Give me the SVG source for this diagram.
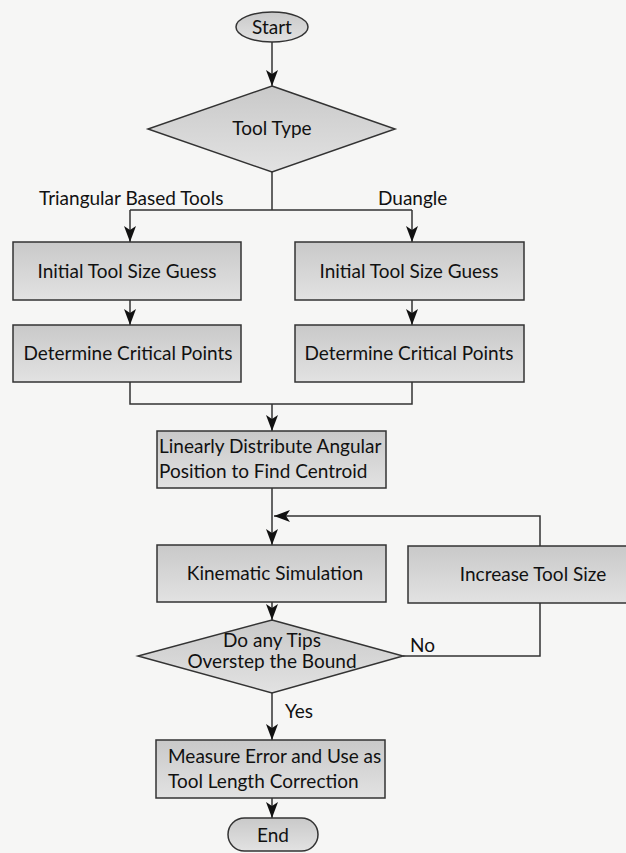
<svg xmlns="http://www.w3.org/2000/svg" width="626" height="853" viewBox="0 0 626 853">
<defs>
<linearGradient id="g" x1="0" y1="0" x2="0" y2="1">
<stop offset="0" stop-color="#c9c9c9"/>
<stop offset="1" stop-color="#e2e2e2"/>
</linearGradient>
<marker id="ah" viewBox="0 0 16 12" markerWidth="16" markerHeight="12" refX="16" refY="6" orient="auto" markerUnits="userSpaceOnUse">
<path d="M0,0 L16,6 L0,12 L4,6 Z" fill="#111"/>
</marker>
</defs>
<style>
.b{fill:url(#g);stroke:#333;stroke-width:1.5}
.t{font-family:"Lato","Liberation Sans",sans-serif;font-size:19px;fill:#111}
.m{text-anchor:middle}
.c{fill:none;stroke:#333;stroke-width:1.5}
.a{marker-end:url(#ah)}
</style>
<rect width="626" height="853" fill="#f6f6f5"/>
<g id="connectors">
<path class="c a" d="M272,42 V86"/>
<path class="c" d="M272,172 V210 M130,210 H412"/>
<path class="c a" d="M130,210 V242"/>
<path class="c a" d="M412,210 V242"/>
<path class="c a" d="M130,300 V325"/>
<path class="c a" d="M412,300 V325"/>
<path class="c" d="M130,382 V404 H412 V382"/>
<path class="c a" d="M272,404 V431"/>
<path class="c a" d="M272,488 V545"/>
<path class="c a" d="M540,603 V656 H403 M540,546 V516 H274"/>
<path class="c a" d="M272,602 V620"/>
<path class="c a" d="M272,693 V740"/>
<path class="c a" d="M272,798 V818"/>
<text class="t" x="39" y="205">Triangular Based Tools</text>
<text class="t" x="378" y="205">Duangle</text>
<text class="t" x="410" y="652">No</text>
<text class="t" x="285" y="718">Yes</text>
</g>
<g id="start"><ellipse class="b" cx="272" cy="27" rx="36" ry="15"/><text class="t m" x="272" y="34">Start</text></g>
<g id="tooltype"><path class="b" d="M272,86 L395,129 L272,172 L148,129 Z"/><text class="t m" x="272" y="135">Tool Type</text></g>
<g id="guess1"><rect class="b" x="13" y="242" width="228" height="58"/><text class="t m" x="127" y="278">Initial Tool Size Guess</text></g>
<g id="guess2"><rect class="b" x="295" y="242" width="229" height="58"/><text class="t m" x="409" y="278">Initial Tool Size Guess</text></g>
<g id="crit1"><rect class="b" x="13" y="325" width="228" height="57"/><text class="t m" x="128" y="360">Determine Critical Points</text></g>
<g id="crit2"><rect class="b" x="295" y="325" width="229" height="57"/><text class="t m" x="409" y="360">Determine Critical Points</text></g>
<g id="linear"><rect class="b" x="157" y="431" width="229" height="57"/><text class="t" x="159" y="453">Linearly Distribute Angular</text><text class="t" x="159" y="478">Position to Find Centroid</text></g>
<g id="kinematic"><rect class="b" x="157" y="545" width="229" height="57"/><text class="t m" x="275" y="580">Kinematic Simulation</text></g>
<g id="increase"><rect class="b" x="408" y="546" width="220" height="57"/><text class="t m" x="533" y="581">Increase Tool Size</text></g>
<g id="tips"><path class="b" d="M272,620 L403,656 L272,693 L138,656 Z"/><text class="t m" x="272" y="647">Do any Tips</text><text class="t m" x="272" y="668">Overstep the Bound</text></g>
<g id="measure"><rect class="b" x="156" y="740" width="229" height="58"/><text class="t" x="168" y="763">Measure Error and Use as</text><text class="t" x="168" y="788">Tool Length Correction</text></g>
<g id="end"><rect class="b" x="228" y="818" width="90" height="33" rx="16.5"/><text class="t m" x="273" y="842">End</text></g>
</svg>
